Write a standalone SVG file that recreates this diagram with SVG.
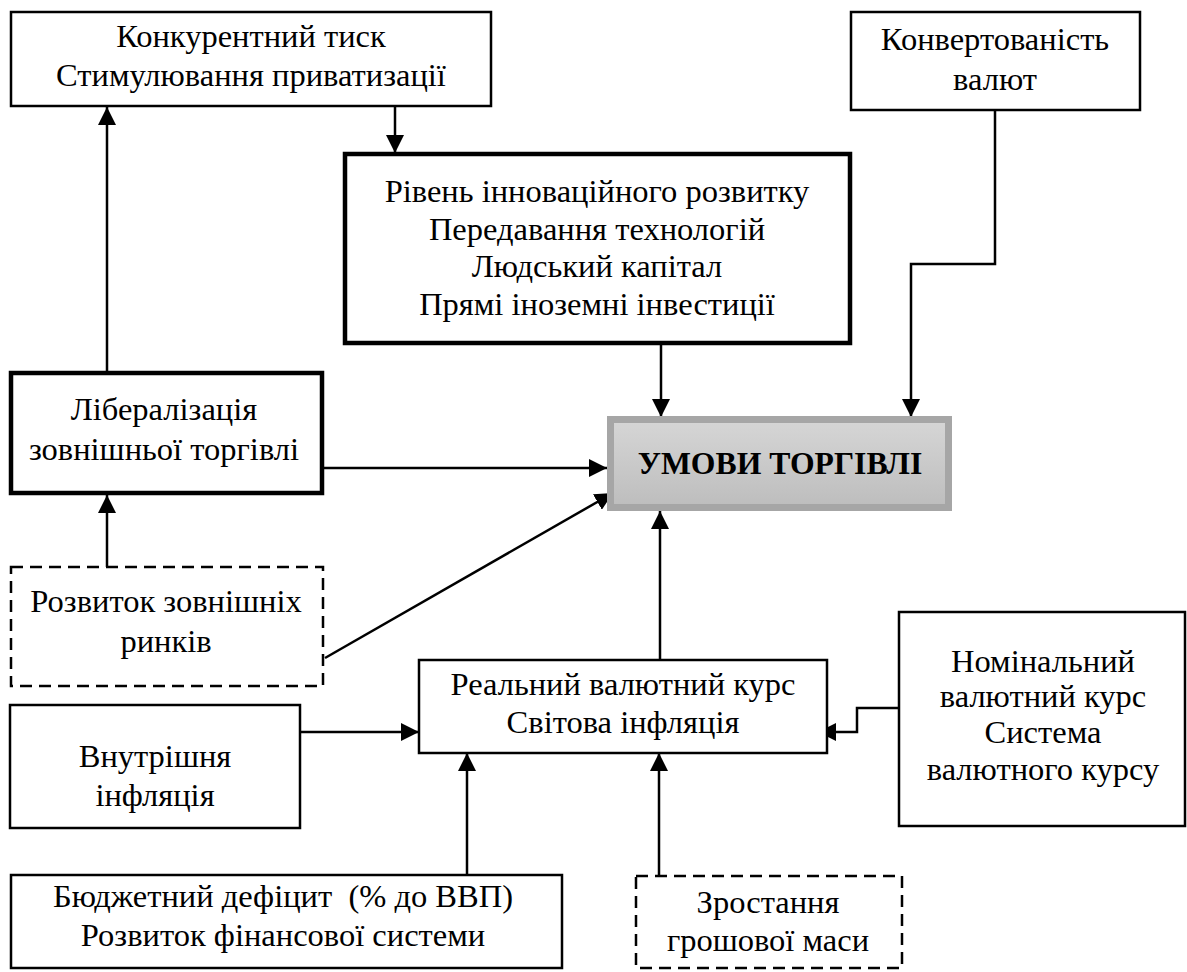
<svg xmlns="http://www.w3.org/2000/svg" width="1187" height="972" viewBox="0 0 1187 972">
<defs>
<style>
.box{fill:#fff;stroke:#000;stroke-width:2.5}
.thick{fill:#fff;stroke:#000;stroke-width:4.5}
.dash{fill:#fff;stroke:#000;stroke-width:2.5;stroke-dasharray:12 7}
.t{font-family:"Liberation Serif","Times New Roman",serif;font-size:32.5px;fill:#000;text-anchor:middle;white-space:pre}
.b{font-family:"Liberation Serif","Times New Roman",serif;font-size:31.7px;font-weight:bold;fill:#000;text-anchor:middle}
.ln{fill:none;stroke:#000;stroke-width:2.5}
</style>
<marker id="ah" markerUnits="userSpaceOnUse" markerWidth="18" markerHeight="18" refX="18" refY="9" orient="auto">
<path d="M0,0 L18,9 L0,18 z" fill="#000"/>
</marker>
<linearGradient id="gr" x1="0" y1="0" x2="0" y2="1">
<stop offset="0" stop-color="#d6d6d6"/>
<stop offset="1" stop-color="#bdbdbd"/>
</linearGradient>
</defs>
<rect width="1187" height="972" fill="#fff"/>
<g id="connectors">
<line class="ln" x1="395" y1="106" x2="395" y2="153" marker-end="url(#ah)"/>
<line class="ln" x1="107" y1="371" x2="107" y2="107" marker-end="url(#ah)"/>
<line class="ln" x1="661" y1="345" x2="661" y2="417" marker-end="url(#ah)"/>
<polyline class="ln" points="995,110 995,264 911,264 911,417" marker-end="url(#ah)"/>
<line class="ln" x1="324" y1="468" x2="607" y2="468" marker-end="url(#ah)"/>
<line class="ln" x1="325" y1="658" x2="613" y2="493" marker-end="url(#ah)"/>
<line class="ln" x1="107" y1="567" x2="107" y2="495" marker-end="url(#ah)"/>
<line class="ln" x1="660" y1="660" x2="660" y2="511" marker-end="url(#ah)"/>
<line class="ln" x1="300" y1="732" x2="419" y2="732" marker-end="url(#ah)"/>
<polyline class="ln" points="899,708 857,708 857,732 818,732" marker-end="url(#ah)"/>
<line class="ln" x1="467" y1="875" x2="467" y2="753" marker-end="url(#ah)"/>
<line class="ln" x1="659" y1="875" x2="659" y2="753" marker-end="url(#ah)"/>
</g>
<g id="n-konkur">
<rect class="box" x="11" y="12" width="480" height="94"/>
<text class="t" x="251" y="47">Конкурентний тиск</text>
<text class="t" x="251" y="86">Стимулювання приватизації</text>
</g>
<g id="n-riven">
<rect class="thick" x="345" y="154" width="505" height="189"/>
<text class="t" x="597" y="202">Рівень інноваційного розвитку</text>
<text class="t" x="597" y="240">Передавання технологій</text>
<text class="t" x="597" y="277">Людський капітал</text>
<text class="t" x="597" y="315">Прямі іноземні інвестиції</text>
</g>
<g id="n-konvert">
<rect class="box" x="851" y="12" width="289" height="98"/>
<text class="t" x="995" y="50">Конвертованість</text>
<text class="t" x="995" y="90">валют</text>
</g>
<g id="n-liberal">
<rect class="thick" x="11" y="373" width="311" height="120"/>
<text class="t" x="164" y="420">Лібералізація</text>
<text class="t" x="164" y="460">зовнішньої торгівлі</text>
</g>
<g id="n-umovy">
<rect x="610.5" y="419.5" width="338" height="88" fill="url(#gr)" stroke="#a6a6a6" stroke-width="7"/>
<text class="b" x="780" y="474">УМОВИ ТОРГІВЛІ</text>
</g>
<g id="n-rozvytok">
<rect class="dash" x="11" y="567" width="312" height="119"/>
<text class="t" x="166" y="612">Розвиток зовнішніх</text>
<text class="t" x="166" y="652">ринків</text>
</g>
<g id="n-realnyi">
<rect class="box" x="419" y="660" width="408" height="93"/>
<text class="t" x="623" y="695">Реальний валютний курс</text>
<text class="t" x="623" y="733">Світова інфляція</text>
</g>
<g id="n-nominal">
<rect class="box" x="899" y="612" width="286" height="214"/>
<text class="t" x="1043" y="672">Номінальний</text>
<text class="t" x="1043" y="707">валютний курс</text>
<text class="t" x="1043" y="743">Система</text>
<text class="t" x="1043" y="780">валютного курсу</text>
</g>
<g id="n-vnutr">
<rect class="box" x="10" y="705" width="290" height="123"/>
<text class="t" x="155" y="767">Внутрішня</text>
<text class="t" x="155" y="806">інфляція</text>
</g>
<g id="n-budzhet">
<rect class="box" x="11" y="875" width="551" height="93"/>
<text class="t" x="283" y="907" xml:space="preserve">Бюджетний дефіцит  (% до ВВП)</text>
<text class="t" x="283" y="946">Розвиток фінансової системи</text>
</g>
<g id="n-zrost">
<rect class="dash" x="636" y="876" width="266" height="92"/>
<text class="t" x="768" y="913">Зростання</text>
<text class="t" x="768" y="951">грошової маси</text>
</g>
</svg>
